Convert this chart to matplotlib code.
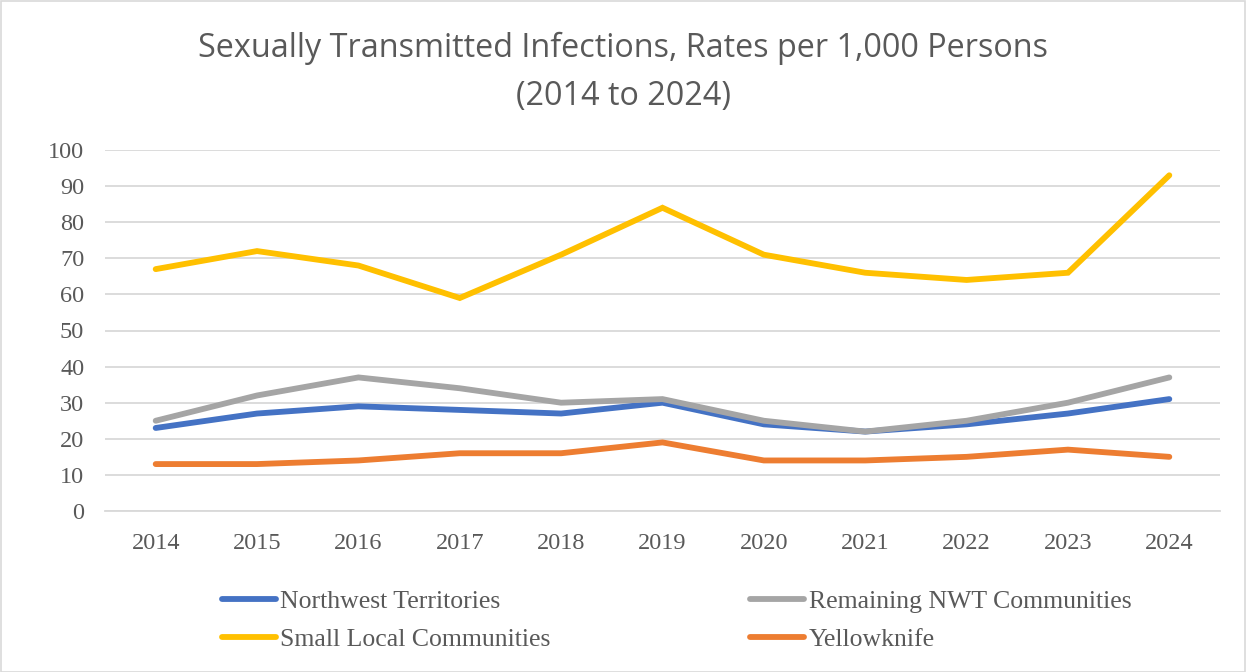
import matplotlib
matplotlib.use("Agg")
import matplotlib.pyplot as plt

# Data
years = ["2014", "2015", "2016", "2017", "2018", "2019", "2020", "2021", "2022", "2023", "2024"]
nwt = [23, 27, 29, 28, 27, 30, 24, 22, 24, 27, 31]
remaining = [25, 32, 37, 34, 30, 31, 25, 22, 25, 30, 37]
small_local = [67, 72, 68, 59, 71, 84, 71, 66, 64, 66, 93]
yellowknife = [13, 13, 14, 16, 16, 19, 14, 14, 15, 17, 15]

series = [
    ("Northwest Territories", nwt, "#4472C4"),
    ("Remaining NWT Communities", remaining, "#A5A5A5"),
    ("Small Local Communities", small_local, "#FFC000"),
    ("Yellowknife", yellowknife, "#ED7D31"),
]

W, H = 1246, 672
fig = plt.figure(figsize=(W / 100, H / 100), dpi=100)
ax = fig.add_axes([105 / W, 1 - 511 / H, (1220 - 105) / W, (511 - 150) / H])

x = range(len(years))
lines = {}
for name, vals, col in series:
    ln, = ax.plot(x, vals, color=col, lw=4.2, solid_capstyle="round",
                  solid_joinstyle="miter", label=name)
    lines[name] = ln

ax.set_xlim(-0.5, len(years) - 0.5)
ax.set_ylim(0, 100)
ax.set_yticks(range(0, 101, 10))
ax.set_xticks(list(x))
ax.set_xticklabels(years)
ax.yaxis.grid(True, color="#D9D9D9", lw=1.3)
ax.set_axisbelow(True)
for s in ["top", "right", "left"]:
    ax.spines[s].set_visible(False)
ax.spines["bottom"].set_color("#D9D9D9")
ax.spines["bottom"].set_linewidth(1.3)
ax.tick_params(length=0, labelsize=17.5, labelcolor="#595959")
ax.tick_params(axis="x", pad=15.5)
ax.tick_params(axis="y", pad=15)
for lab in ax.get_xticklabels() + ax.get_yticklabels():
    lab.set_family("Liberation Serif")

fig.text(0.5, 1 - 48 / H, "Sexually Transmitted Infections, Rates per 1,000 Persons",
         ha="center", va="center", fontsize=23.3, color="#595959", family="Open Sans")
fig.text(0.5, 1 - 96 / H, "(2014 to 2024)",
         ha="center", va="center", fontsize=23.3, color="#595959", family="Open Sans")

order = ["Northwest Territories", "Small Local Communities",
         "Remaining NWT Communities", "Yellowknife"]
leg = fig.legend([lines[n] for n in order], order, ncol=2, frameon=False,
                 loc="center left", bbox_to_anchor=(199 / W, 1 - 620.5 / H),
                 prop={"family": "Liberation Serif", "size": 18.5},
                 handlelength=2.1, handletextpad=0.17, columnspacing=7.77,
                 labelspacing=0.62)
for t in leg.get_texts():
    t.set_color("#595959")

# chart border
fig.patches.append(plt.Rectangle((0.5 / W, 0.5 / H), 1 - 1.5 / W, 1 - 1.5 / H,
                                 transform=fig.transFigure, fill=False,
                                 edgecolor="#D9D9D9", lw=1.2))

fig.savefig("out.png", dpi=100)
